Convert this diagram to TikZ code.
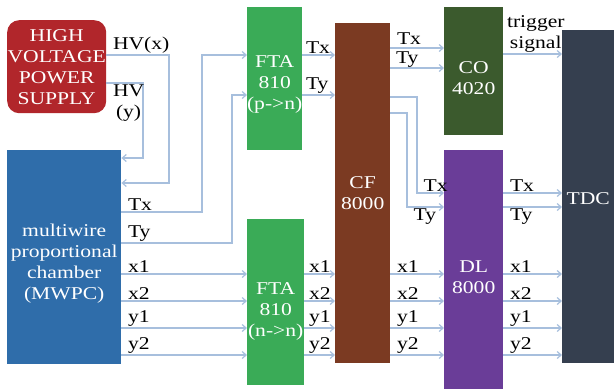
\documentclass[tikz,border=0pt]{standalone}
\usepackage{fontspec}
\setmainfont[FakeStretch=1.2]{Liberation Serif}
\usetikzlibrary{arrows.meta}
\definecolor{HVRed}{HTML}{B1262B}
\definecolor{ChamberBlue}{HTML}{2F6DAA}
\definecolor{FtaGreen}{HTML}{3AAB57}
\definecolor{CfBrown}{HTML}{7B3A22}
\definecolor{CoGreen}{HTML}{3B5A2D}
\definecolor{DlPurple}{HTML}{6A3D98}
\definecolor{TdcSlate}{HTML}{353F4F}
\definecolor{WireBlue}{HTML}{A7BFDD}

\begin{document}
\begin{tikzpicture}[x=1pt, y=-1pt, >={Straight Barb[length=4pt,width=7pt]},
  every node/.style={font=\fontsize{18}{21}\selectfont},
  box/.style={anchor=north west, inner sep=0pt},
  boxtext/.style={text=white, align=center, inner sep=0pt},
  wire/.style={->, WireBlue, line width=1.2pt},
  lab/.style={anchor=south west, inner sep=1pt, xshift=5pt, align=center, text=black},
  labb/.style={anchor=north west, inner sep=1pt, xshift=5pt, align=center, text=black}]
  \useasboundingbox (0,0) rectangle (614,389);

  % blocks
  \node[box, fill=HVRed, rounded corners=12pt, minimum width=99pt, minimum height=93pt] (hv) at (7,20) {};
  \node[box, fill=ChamberBlue, minimum width=114pt, minimum height=214pt] (mwpc) at (7,150) {};
  \node[box, fill=FtaGreen, minimum width=55pt, minimum height=143pt] (fta) at (247,7) {};
  \node[box, fill=FtaGreen, minimum width=57pt, minimum height=166pt] (ftab) at (247,219) {};
  \node[box, fill=CfBrown, minimum width=55pt, minimum height=340pt] (cf) at (335,23) {};
  \node[box, fill=CoGreen, minimum width=59pt, minimum height=128pt] (co) at (444,7) {};
  \node[box, fill=DlPurple, minimum width=59pt, minimum height=239pt] (dl) at (444,150) {};
  \node[box, fill=TdcSlate, minimum width=52pt, minimum height=333pt] (tdc) at (562,30) {};

  \node[boxtext] at (hv.center) {HIGH\\VOLTAGE\\POWER\\SUPPLY};
  \node[boxtext] at ([yshift=-6pt]mwpc.center) {multiwire\\proportional\\chamber\\(MWPC)};
  \node[boxtext] at ([yshift=-6pt]fta.center) {FTA\\810\\(p->n)};
  \node[boxtext] at ([yshift=-9pt]ftab.center) {FTA\\810\\(n->n)};
  \node[boxtext] at (cf.center) {CF\\8000};
  \node[boxtext] at ([yshift=-7pt]co.center) {CO\\4020};
  \node[boxtext] at ([yshift=-7pt]dl.center) {DL\\8000};
  \node[boxtext] at ([yshift=-2pt]tdc.center) {TDC};

  % high voltage
  \draw[wire] (hv.east |- 0,55) node[lab] {HV(x)} -| (169,183) -- (mwpc.east |- 0,183);
  \draw[wire] (hv.east |- 0,83) node[labb] {HV\\(y)} -| (143,158) -- (mwpc.east |- 0,158);

  % timing signals
  \draw[wire] (mwpc.east |- 0,212) node[lab] {Tx} -| (202,55) -- (fta.west |- 0,55);
  \draw[wire] (mwpc.east |- 0,243) node[lab] {Ty} -| (232,95) -- (fta.west |- 0,95);
  \draw[wire] (fta.east |- 0,55) node[lab, xshift=-3pt] {Tx} -- (cf.west |- 0,55);
  \draw[wire] (fta.east |- 0,95) node[lab, xshift=-3pt] {Ty} -- (cf.west |- 0,95);
  \draw[wire] (cf.east |- 0,48) node[lab, yshift=2pt] {Tx} -- (co.west |- 0,48);
  \draw[wire] (cf.east |- 0,68) node[lab, inner sep=0pt] {Ty} -- (co.west |- 0,68);
  \draw[wire] (cf.east |- 0,97) -| (417,193) node[lab] {Tx} -- (dl.west |- 0,193);
  \draw[wire] (cf.east |- 0,113) -| (407,207) node[labb] {Ty} -- (dl.west |- 0,207);
  \draw[wire] (co.east |- 0,54) node[lab, xshift=-3pt] {trigger\\signal} -- (tdc.west |- 0,54);
  \draw[wire] (dl.east |- 0,193) node[lab] {Tx} -- (tdc.west |- 0,193);
  \draw[wire] (dl.east |- 0,207) node[labb] {Ty} -- (tdc.west |- 0,207);

  % position signals
  \draw[wire] (mwpc.east |- 0,274) node[lab] {x1} -- (ftab.west |- 0,274);
  \draw[wire] (mwpc.east |- 0,301) node[lab] {x2} -- (ftab.west |- 0,301);
  \draw[wire] (mwpc.east |- 0,328) node[lab] {y1} -- (ftab.west |- 0,328);
  \draw[wire] (mwpc.east |- 0,355) node[lab] {y2} -- (ftab.west |- 0,355);
  \draw[wire] (ftab.east |- 0,274) node[lab, xshift=-2pt] {x1} -- (cf.west |- 0,274);
  \draw[wire] (ftab.east |- 0,301) node[lab, xshift=-2pt] {x2} -- (cf.west |- 0,301);
  \draw[wire] (ftab.east |- 0,328) node[lab, xshift=-2pt] {y1} -- (cf.west |- 0,328);
  \draw[wire] (ftab.east |- 0,355) node[lab, xshift=-2pt] {y2} -- (cf.west |- 0,355);
  \draw[wire] (cf.east |- 0,274) node[lab] {x1} -- (dl.west |- 0,274);
  \draw[wire] (cf.east |- 0,301) node[lab] {x2} -- (dl.west |- 0,301);
  \draw[wire] (cf.east |- 0,328) node[lab] {y1} -- (dl.west |- 0,328);
  \draw[wire] (cf.east |- 0,355) node[lab] {y2} -- (dl.west |- 0,355);
  \draw[wire] (dl.east |- 0,274) node[lab] {x1} -- (tdc.west |- 0,274);
  \draw[wire] (dl.east |- 0,301) node[lab] {x2} -- (tdc.west |- 0,301);
  \draw[wire] (dl.east |- 0,328) node[lab] {y1} -- (tdc.west |- 0,328);
  \draw[wire] (dl.east |- 0,355) node[lab] {y2} -- (tdc.west |- 0,355);
\end{tikzpicture}
\end{document}
